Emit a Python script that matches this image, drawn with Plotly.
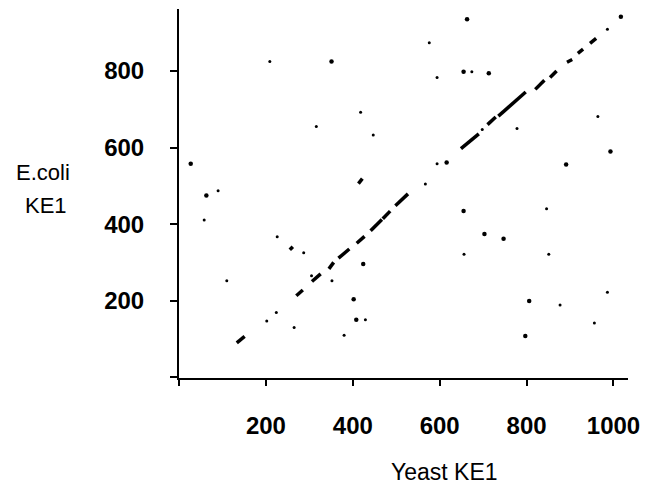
import plotly.graph_objects as go

# ---- data (Yeast KE1 residue vs E.coli KE1 residue) ----
# diagonal / dash segments of the dot-plot
seg_x0 = [133, 255, 270, 306, 345, 367, 409, 413, 441, 469, 498, 649, 710, 735, 820, 854, 893, 918, 946]
seg_y0 = [90, 333, 213, 250, 283, 311, 350, 506, 383, 414, 448, 597, 660, 682, 752, 783, 823, 846, 872]
seg_x1 = [151, 262, 285, 326, 356, 392, 427, 422, 467, 486, 527, 690, 729, 798, 841, 869, 905, 930, 960]
seg_y1 = [107, 341, 228, 270, 300, 335, 368, 519, 412, 434, 479, 636, 680, 745, 776, 800, 830, 857, 885]

# strong isolated matches
strong_x = [351, 27, 63, 424, 402, 408, 663, 655, 713, 993, 891, 616, 655, 703, 747, 806, 797, 1017]
strong_y = [825, 558, 475, 296, 204, 150, 935, 798, 794, 590, 556, 561, 434, 374, 362, 199, 108, 942]

# weak isolated matches
weak_x = [209, 418, 316, 447, 90, 58, 226, 287, 110, 305, 352, 224, 202, 429, 265, 380,
          986, 576, 594, 674, 698, 778, 964, 594, 567, 846, 656, 851, 986, 877, 956]
weak_y = [825, 692, 655, 633, 487, 411, 367, 325, 252, 265, 252, 169, 147, 150, 130, 110,
          909, 874, 783, 798, 647, 650, 681, 558, 505, 440, 321, 321, 222, 189, 142]

x_ticks = [0, 200, 400, 600, 800, 1000]
x_tick_labels = ["", "200", "400", "600", "800", "1000"]
y_ticks = [0, 200, 400, 600, 800]
y_tick_labels = ["", "200", "400", "600", "800"]

x_title = "Yeast KE1"
y_title_lines = ["E.coli", "KE1"]

# ---- figure ----
seg_x, seg_y = [], []
for a, b, c, d in zip(seg_x0, seg_y0, seg_x1, seg_y1):
    seg_x += [a, c, None]
    seg_y += [b, d, None]

fig = go.Figure()
fig.add_trace(go.Scatter(x=seg_x, y=seg_y, mode="lines",
                         line=dict(color="black", width=3.5), hoverinfo="skip"))
fig.add_trace(go.Scatter(x=strong_x, y=strong_y, mode="markers",
                         marker=dict(color="black", size=4.5, line=dict(width=0))))
fig.add_trace(go.Scatter(x=weak_x, y=weak_y, mode="markers",
                         marker=dict(color="black", size=3, line=dict(width=0))))

FONT = "Liberation Sans, Arial, Helvetica, sans-serif"

fig.update_layout(
    width=649, height=486,
    margin=dict(l=179, r=18, t=9, b=108),
    paper_bgcolor="white", plot_bgcolor="white",
    showlegend=False,
    font=dict(family=FONT, color="black", size=24),
    xaxis=dict(range=[0, 1033.4], tickvals=x_ticks, ticktext=x_tick_labels,
               ticks="outside", ticklen=6, tickwidth=2, tickcolor="black",
               showline=True, linewidth=2, linecolor="black",
               showgrid=False, zeroline=False, ticklabelstandoff=19,
               tickfont=dict(family=FONT, size=24, color="black", weight="bold")),
    yaxis=dict(range=[-2, 962], tickvals=y_ticks, ticktext=y_tick_labels,
               ticks="outside", ticklen=7, tickwidth=2, tickcolor="black",
               showline=True, linewidth=2, linecolor="black",
               showgrid=False, zeroline=False, ticklabelstandoff=21,
               tickfont=dict(family=FONT, size=24, color="black", weight="bold")),
)

fig.add_annotation(text=x_title, xref="paper", yref="paper", x=0.5907, y=-0.255,
                   xanchor="center", yanchor="middle", showarrow=False,
                   font=dict(family=FONT, size=23, color="black"))
fig.add_annotation(text=y_title_lines[0], xref="paper", yref="paper", x=-0.303, y=0.557,
                   xanchor="center", yanchor="middle", showarrow=False,
                   font=dict(family=FONT, size=22, color="black"))
fig.add_annotation(text=y_title_lines[1], xref="paper", yref="paper", x=-0.296, y=0.4675,
                   xanchor="center", yanchor="middle", showarrow=False,
                   font=dict(family=FONT, size=22, color="black"))

fig.write_html("out.html", config={"displayModeBar": False},
               post_script="document.body.style.margin='0';")
